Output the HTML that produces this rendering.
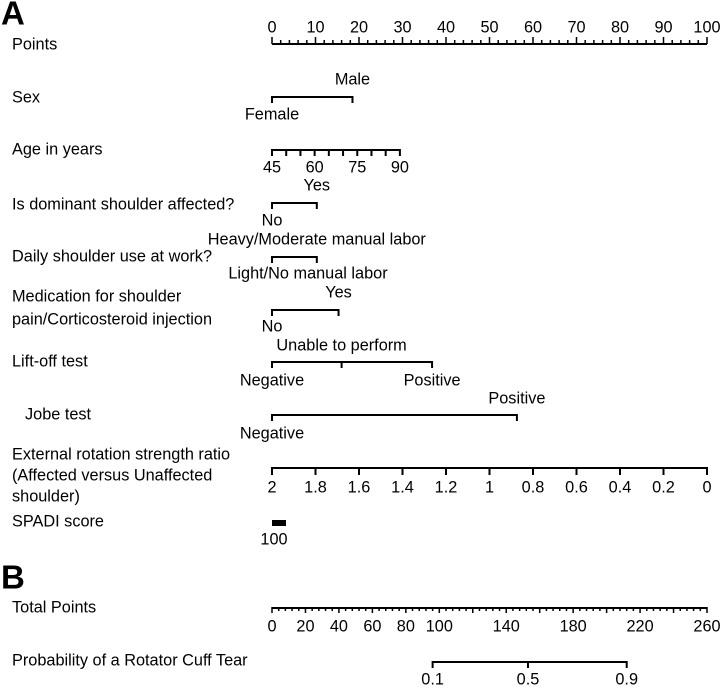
<!DOCTYPE html>
<html><head><meta charset="utf-8"><style>
body{margin:0;background:#fff}
svg text{font-family:"Liberation Sans",Arial,sans-serif;font-size:16.3px;fill:#000}
svg text.panel{font-size:33px;font-weight:bold}
</style></head><body>
<svg id="c" width="720" height="686" viewBox="0 0 720 686"></svg>
<script>
const pointTicks=[0,10,20,30,40,50,60,70,80,90,100];
const ageTicks=[45,60,75,90];
const ersTicks=[2,1.8,1.6,1.4,1.2,1,0.8,0.6,0.4,0.2,0];
const totalTicks=[0,20,40,60,80,100,140,180,220,260];
const probTicks=[0.1,0.5,0.9];
const sexPts=[0,18.5];
const domPts=[0,10.3];
const dailyPts=[0,10.3];
const medPts=[0,15.3];
const liftPts=[0,16,36.8];
const jobePts=[0,56.3];
const probPoints=[96,153,212];

const svg=document.getElementById('c');
const NS='http://www.w3.org/2000/svg';
const X0=272,X1=707;
const px=p=>X0+(X1-X0)*p/100;
const tx=t=>X0+(X1-X0)*t/260;
const ageX=a=>px((a-45)/45*29.4);
const ersX=r=>X0+(X1-X0)*(2-r)/2;
function el(tag,attrs,name,txt){const e=document.createElementNS(NS,tag);for(const k in attrs)e.setAttribute(k,attrs[k]);


if(txt!==undefined)e.textContent=txt;svg.appendChild(e);return e;}
function line(x1,y1,x2,y2,name,w){return el('line',{x1,y1,x2,y2,stroke:'#000','stroke-width':w||2},name);}
function text(x,y,s,name,anchor,extra){return el('text',Object.assign({x,y,'text-anchor':anchor||'middle','dominant-baseline':'middle'},extra||{}),name,s);}

text(1,16,'A','panel-a-label','start',{'class':'panel'});
text(1,580,'B','panel-b-label','start',{'class':'panel'});

const labels=[[45,'Points'],[98,'Sex'],[150,'Age in years'],[205,'Is dominant shoulder affected?'],[257,'Daily shoulder use at work?'],[297,'Medication for shoulder'],[320,'pain/Corticosteroid injection'],[362,'Lift-off test'],[455,'External rotation strength ratio'],[476,'(Affected versus Unaffected'],[497,'shoulder)'],[522,'SPADI score'],[608,'Total Points'],[661,'Probability of a Rotator Cuff Tear']];
labels.forEach(l=>text(12,l[0],l[1],'row-label','start'));
text(25,415,'Jobe test','row-label','start');

// points axis
line(X0,44,X1,44,'points-axis');
for(let p=0;p<=100;p+=2){line(px(p),44,px(p),p%10===0?37:40,'points-tick',1.5);}
pointTicks.forEach(p=>text(px(p),28,String(p),'points-tick-label'));

function bar(y,pts,name){line(px(pts[0]),y,px(pts[pts.length-1]),y,name);pts.forEach(p=>line(px(p),y-1,px(p),y+6,name+'-tick',2));}
bar(97,sexPts,'sex-scale');text(px(sexPts[1]),80,'Male','sex-male');text(272,115,'Female','sex-female');
// age
line(ageX(45),150,ageX(90),150,'age-scale');
for(let a=45;a<=90;a+=5)line(ageX(a),149,ageX(a),156,'age-tick',2);
ageTicks.forEach(a=>text(ageX(a),168,String(a),'age-tick-label'));
bar(203,domPts,'dominant-scale');text(px(domPts[1]),186,'Yes','dominant-yes');text(272,221,'No','dominant-no');
bar(257,dailyPts,'daily-use-scale');text(px(dailyPts[1]),240,'Heavy/Moderate manual labor','daily-heavy');text(px(dailyPts[0])+36,274,'Light/No manual labor','daily-light');
bar(310,medPts,'medication-scale');text(px(medPts[1]),293,'Yes','medication-yes');text(272,327,'No','medication-no');
bar(362,liftPts,'liftoff-scale');text(px(liftPts[1]),346,'Unable to perform','liftoff-unable');text(272,381,'Negative','liftoff-negative');text(px(liftPts[2]),381,'Positive','liftoff-positive');
bar(415,jobePts,'jobe-scale');text(px(jobePts[1]),399,'Positive','jobe-positive');text(272,434,'Negative','jobe-negative');
// ERS
line(X0,468,X1,468,'ers-scale');
ersTicks.forEach(r=>{line(ersX(r),467,ersX(r),475,'ers-tick',2);text(ersX(r),488,String(r),'ers-tick-label');});
// SPADI
el('rect',{x:272,y:520,width:14,height:6,fill:'#000'},'spadi-mark');
text(274,540,'100','spadi-label');
// total points
line(X0,608,X1,608,'total-points-axis');
for(let t=0;t<=260;t+=4)line(tx(t),607,tx(t),t%20===0?613:611,'total-tick',1.5);
totalTicks.forEach(t=>text(tx(t),627,String(t),'total-tick-label'));
// probability
line(tx(probPoints[0]),662,tx(probPoints[2]),662,'probability-axis');
probTicks.forEach((p,i)=>{line(tx(probPoints[i]),661,tx(probPoints[i]),668,'prob-tick',2);text(tx(probPoints[i]),680,String(p),'prob-tick-label');});
</script>
</body></html>
